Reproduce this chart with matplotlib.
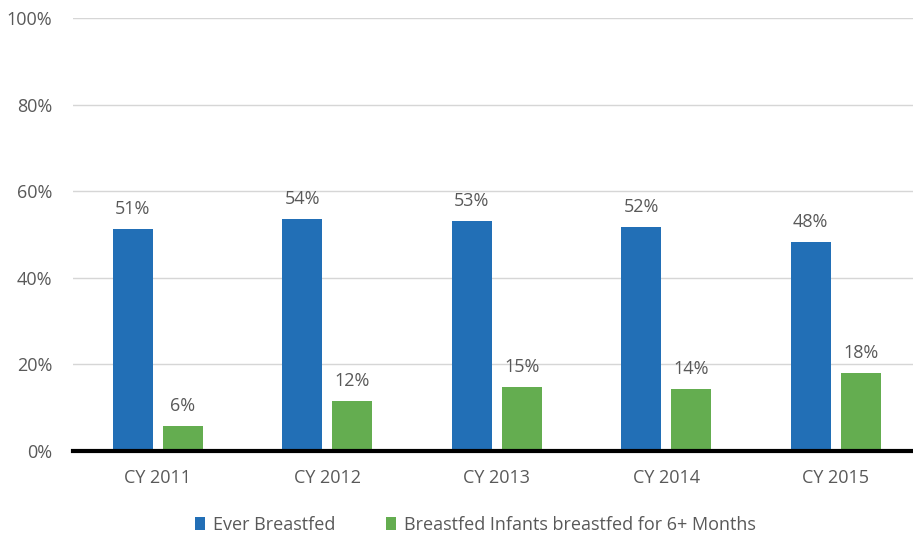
import matplotlib.pyplot as plt
import numpy as np

years = ['CY 2011', 'CY 2012', 'CY 2013', 'CY 2014', 'CY 2015']
ever_bf = [51.3, 53.6, 53.1, 51.7, 48.3]
six_months = [5.8, 11.5, 14.8, 14.3, 18.0]
ever_lbl = ['51%', '54%', '53%', '52%', '48%']
six_lbl = ['6%', '12%', '15%', '14%', '18%']

plt.rcParams['font.family'] = ['Open Sans', 'DejaVu Sans']
txt = '#595959'
fs = 13

fig = plt.figure(figsize=(9.13, 5.39), dpi=100)
ax = fig.add_axes([73/913, (539-451)/539, 840/913, 433/539])

x = np.arange(len(years))
w = 0.236
off = 0.1475
b1 = ax.bar(x - off, ever_bf, w, color='#226FB6', label='Ever Breastfed', zorder=3)
b2 = ax.bar(x + off, six_months, w, color='#64AD50',
            label='Breastfed Infants breastfed for 6+ Months', zorder=3)

# value labels above bars
for bars, labels in [(b1, ever_lbl), (b2, six_lbl)]:
    for rect, s in zip(bars, labels):
        ax.annotate(s, (rect.get_x() + rect.get_width()/2, rect.get_height()),
                    xytext=(0, 8), textcoords='offset points', ha='center', va='bottom',
                    fontsize=fs, color=txt)

ax.set_ylim(0, 100)
ax.set_xlim(-0.5, 4.456)
ax.set_yticks(range(0, 101, 20))
ax.set_yticklabels([f'{v}%' for v in range(0, 101, 20)])
ax.set_xticks(x)
ax.set_xticklabels(years)
ax.tick_params(axis='both', length=0, labelsize=fs, labelcolor=txt)
ax.tick_params(axis='y', pad=15)
ax.tick_params(axis='x', pad=13)
ax.yaxis.grid(True, color='#d6d6d6', linewidth=1, zorder=0)
ax.axhline(0, color='black', linewidth=3, zorder=4, clip_on=False)
for sp in ax.spines.values():
    sp.set_visible(False)

fig.legend(handles=[b1, b2], loc='center', bbox_to_anchor=(475/913, 1 - 525/539),
           ncol=2, frameon=False, fontsize=fs, labelcolor=txt,
           handlelength=0.6, handleheight=0.7, handletextpad=0.4, columnspacing=2.8)

fig.savefig('out.png', dpi=100)
